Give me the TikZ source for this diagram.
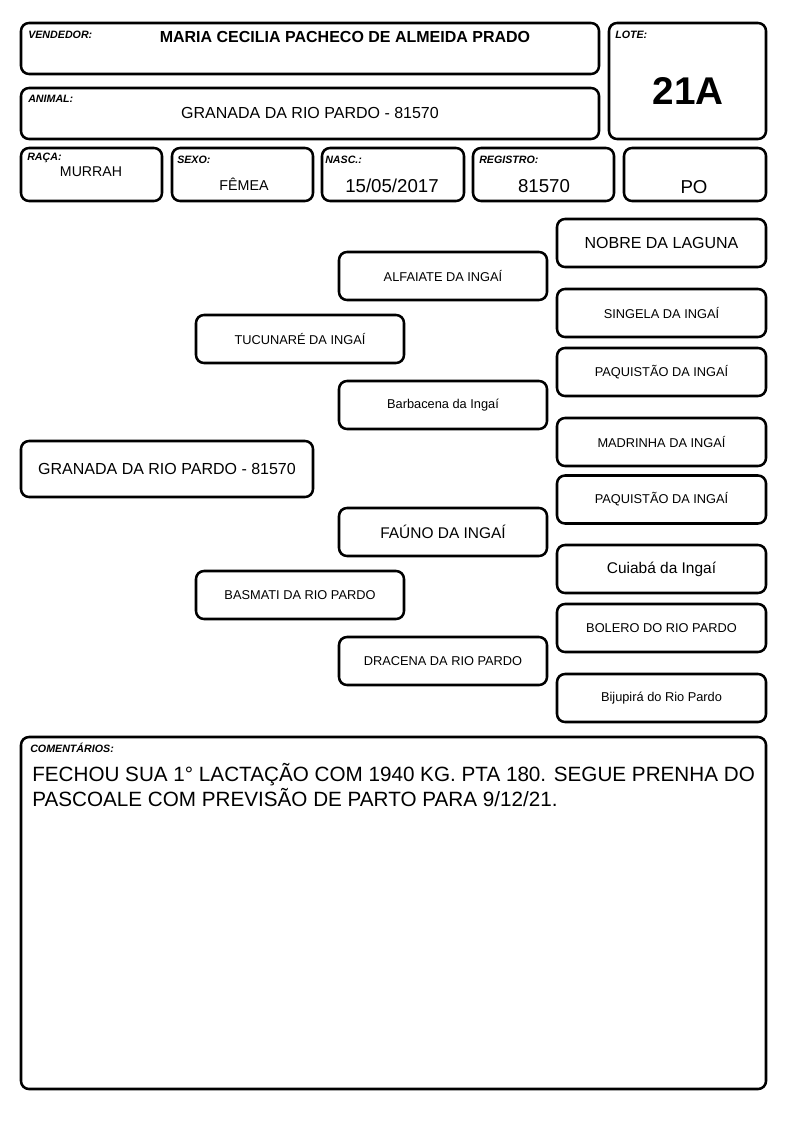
\documentclass[tikz,border=0pt]{standalone}
\usepackage{fontspec}
\setmainfont{Liberation Sans}
\usepackage{tikz}
\tikzset{
  caixa/.style={draw, rounded corners=6pt, line width=1.9pt, inner sep=0pt},
  pedbox/.style={caixa, minimum width=156pt, minimum height=36pt, font=\fontsize{9.6}{11}\selectfont},
  rotulo/.style={anchor=west, inner sep=0pt, font=\fontsize{8}{9}\selectfont\bfseries\itshape},
  valor/.style={inner sep=0pt}
}
\begin{document}
\begin{tikzpicture}[line cap=round,line join=round,x=0.75pt,y=-0.75pt]
		\useasboundingbox (0,0) rectangle (794,1123);
		% cabecalho
		\node[caixa, minimum width=433.5pt, minimum height=38.25pt] (vendedor) at (310,48.5) {};
		\node[caixa, minimum width=433.5pt, minimum height=38.25pt] (animal) at (310,113.5) {};
		\node[caixa, minimum width=117.75pt, minimum height=87pt] (lote) at (687.5,81) {};
		\node[caixa, minimum width=105.75pt, minimum height=39.75pt] (raca) at (91.5,174.5) {};
		\node[caixa, minimum width=105.75pt, minimum height=39.75pt] (sexo) at (242.5,174.5) {};
		\node[caixa, minimum width=106.5pt, minimum height=39.75pt] (nasc) at (393,174.5) {};
		\node[caixa, minimum width=105.75pt, minimum height=39.75pt] (registro) at (543.5,174.5) {};
		\node[caixa, minimum width=106.5pt, minimum height=39.75pt] (categoria) at (695,174.5) {};
		\node[rotulo] (lvendedor) at (28,35) {VENDEDOR:};
		\node[rotulo] (lanimal) at (28,99) {ANIMAL:};
		\node[rotulo] (llote) at (615,35) {LOTE:};
		\node[rotulo] (lraca) at (27,158) {RAÇA:};
		\node[rotulo] (lsexo) at (177,160) {SEXO:};
		\node[rotulo] (lnasc) at (325,160) {NASC.:};
		\node[rotulo] (lregistro) at (479,160) {REGISTRO:};
		\node[valor, font=\fontsize{12}{14}\selectfont\bfseries] (vvendedor) at (345,37) {MARIA CECILIA PACHECO DE ALMEIDA PRADO};
		\node[valor, font=\fontsize{12}{14}\selectfont] (vanimal) at (310,113) {GRANADA DA RIO PARDO - 81570};
		\node[valor, font=\fontsize{29}{32}\selectfont\bfseries] (vlote) at (688,91) {21A};
		\node[valor, font=\fontsize{10.6}{12}\selectfont] (vraca) at (91,172) {MURRAH};
		\node[valor, font=\fontsize{10.7}{12}\selectfont] (vsexo) at (244,184) {FÊMEA};
		\node[valor, font=\fontsize{14}{16}\selectfont] (vnasc) at (392,186) {15/05/2017};
		\node[valor, font=\fontsize{14}{16}\selectfont] (vregistro) at (544,186) {81570};
		\node[valor, font=\fontsize{14}{16}\selectfont] (vcategoria) at (694,187) {PO};
		% genealogia
		\node[caixa, minimum width=219pt, minimum height=42pt, font=\fontsize{12}{14}\selectfont] (filha) at (167,469) {GRANADA DA RIO PARDO - 81570};
		\node[pedbox] (pai) at (300,339) {TUCUNARÉ DA INGAÍ};
		\node[pedbox] (mae) at (300,595) {BASMATI DA RIO PARDO};
		\node[pedbox] (avopp) at (443,276) {ALFAIATE DA INGAÍ};
		\node[pedbox] (avopm) at (443,405) {Barbacena da Ingaí};
		\node[pedbox, font=\fontsize{11.6}{13}\selectfont] (avomp) at (443,532) {FAÚNO DA INGAÍ};
		\node[pedbox] (avomm) at (443,661) {DRACENA DA RIO PARDO};
		\node[pedbox, minimum width=156.75pt, font=\fontsize{12}{14}\selectfont] (bisa1) at (661.5,243) {NOBRE DA LAGUNA};
		\node[pedbox, minimum width=156.75pt] (bisa2) at (661.5,313) {SINGELA DA INGAÍ};
		\node[pedbox, minimum width=156.75pt] (bisa3) at (661.5,372) {PAQUISTÃO DA INGAÍ};
		\node[pedbox, minimum width=156.75pt] (bisa4) at (661.5,442) {MADRINHA DA INGAÍ};
		\node[pedbox, minimum width=156.75pt] (bisa5) at (661.5,499.5) {PAQUISTÃO DA INGAÍ};
		\node[pedbox, minimum width=156.75pt, font=\fontsize{11.6}{13}\selectfont] (bisa6) at (661.5,569) {Cuiabá da Ingaí};
		\node[pedbox, minimum width=156.75pt] (bisa7) at (661.5,628) {BOLERO DO RIO PARDO};
		\node[pedbox, minimum width=156.75pt] (bisa8) at (661.5,698) {Bijupirá do Rio Pardo};
		% comentarios
		\node[caixa, minimum width=558.75pt, minimum height=264pt] (comentarios) at (393.5,913) {};
		\node[rotulo] (lcomentarios) at (30,748) {COMENTÁRIOS:};
		\node[valor, anchor=north west, align=left, font=\fontsize{15.5}{18.9}\selectfont] (vcomentarios) at (32,763) {FECHOU SUA 1° LACTAÇÃO COM 1940 KG. PTA 180. SEGUE PRENHA DO\\PASCOALE COM PREVISÃO DE PARTO PARA 9/12/21.};
		\end{tikzpicture}
\end{document}
